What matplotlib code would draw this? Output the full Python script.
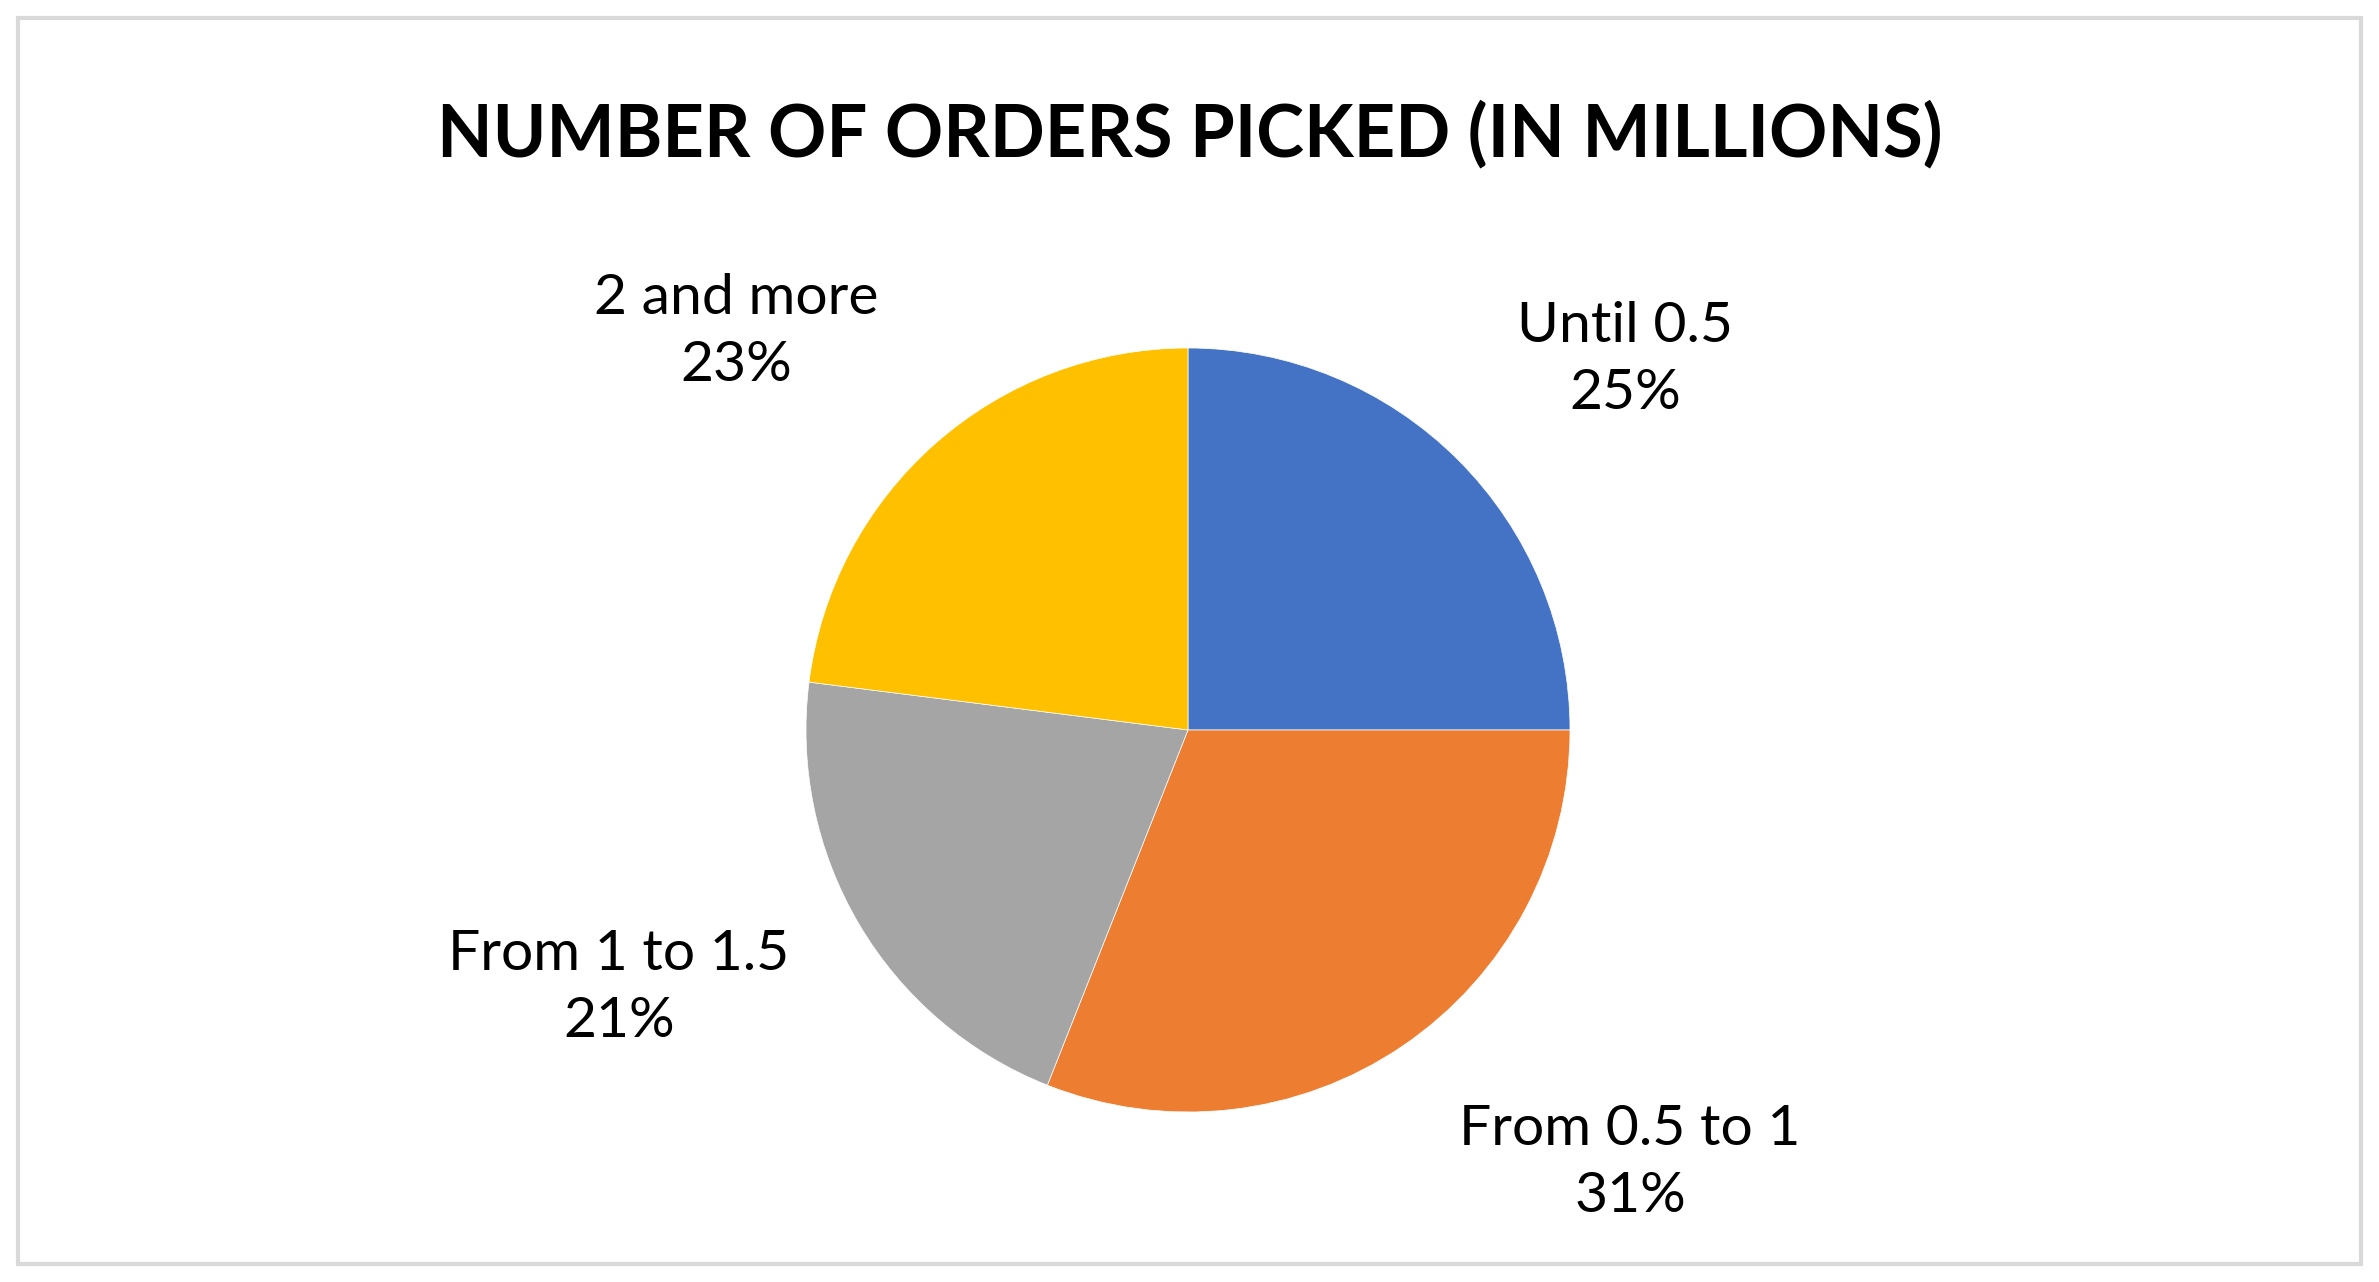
import matplotlib.pyplot as plt
from matplotlib.patches import Rectangle

# Data
categories = ["Until 0.5", "From 0.5 to 1", "From 1 to 1.5", "2 and more"]
shares = [25, 31, 21, 23]
colors = ["#4472C4", "#ED7D31", "#A5A5A5", "#FFC000"]

W, H = 2379, 1282
fig = plt.figure(figsize=(W / 100, H / 100), dpi=100)
plt.rcParams["font.family"] = ["Lato", "DejaVu Sans"]

# outer chart border
fig.patches.append(Rectangle((18 / W, 18 / H), 1 - 36 / W, 1 - 36 / H, transform=fig.transFigure,
                             fill=False, edgecolor="#D9D9D9", linewidth=3))

cx, cy, r = 1188, 730, 382
ax = fig.add_axes([(cx - r) / W, (H - cy - r) / H, 2 * r / W, 2 * r / H])
ax.pie(shares, colors=colors, startangle=90, counterclock=False,
       wedgeprops=dict(edgecolor="white", linewidth=0.5))
ax.set_xlim(-1, 1)
ax.set_ylim(-1, 1)
ax.set_aspect("equal")

fig.text(0.5, 1 - 135 / H, "NUMBER OF ORDERS PICKED (IN MILLIONS)", ha="center", va="center",
         fontsize=52, fontweight="bold")

# label positions (pixels)
label_pos = [(1625, 360), (1630, 1163), (619, 988), (736, 332)]
total = sum(shares)
for name, val, (x, y) in zip(categories, shares, label_pos):
    fig.text(x / W, 1 - y / H, f"{name}\n{val / total:.0%}", ha="center", va="center",
             fontsize=41, linespacing=1.4)

fig.savefig("out.png", dpi=100)
